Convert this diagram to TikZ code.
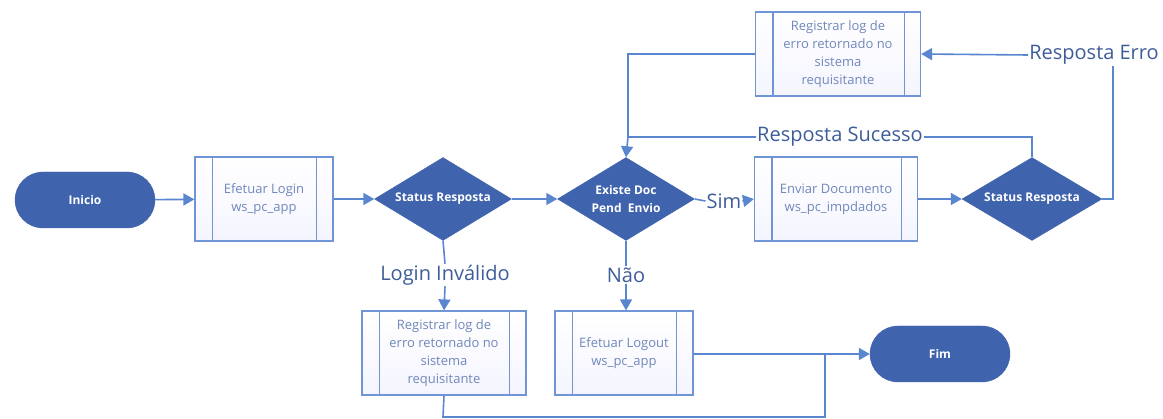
\documentclass[tikz,border=0pt]{standalone}
\usepackage{fontspec}
\setmainfont{Open Sans}
\usetikzlibrary{shapes.geometric,arrows.meta}
\definecolor{dkblue}{HTML}{3F63AC}
\definecolor{lnblue}{HTML}{5A86CF}
\definecolor{bxline}{HTML}{6F95D6}
\definecolor{bxtext}{HTML}{7088BA}
\definecolor{lbtext}{HTML}{3D5C9A}
\tikzset{
  term/.style={fill=dkblue, draw=dkblue, rounded corners=28pt, minimum width=140pt, minimum height=56pt, inner sep=0pt, text=white, font=\fontsize{12}{13}\selectfont\bfseries},
  dec/.style={diamond, fill=dkblue, draw=dkblue, minimum width=137pt, minimum height=83pt, inner sep=0pt},
  dectext/.style={text=white, align=center, inner sep=0pt, font=\fontsize{12}{18}\selectfont\bfseries},
  proc/.style={draw=bxline, line width=1.2pt, top color=white, bottom color=blue!4, minimum height=84pt, inner sep=0pt, align=center, text=bxtext, font=\fontsize{13}{18}\selectfont},
  lbl/.style={text=lbtext, font=\fontsize{20}{22}\selectfont, inner sep=1pt},
  conn/.style={draw=lnblue, line width=1.6pt},
  arr/.style={conn, -{Triangle[length=11pt,width=12pt]}},
}
\newcommand{\bars}[1]{\draw[draw=bxline, line width=1.2pt] ([xshift=18pt]#1.north west) -- ([xshift=18pt]#1.south west) ([xshift=-17pt]#1.north east) -- ([xshift=-17pt]#1.south east);}
\begin{document}
\begin{tikzpicture}[x=1pt,y=-1pt]
\useasboundingbox (0,0) rectangle (1163,419);
\node[term] (ini) at (85,200) {Inicio};
\node[proc, minimum width=138pt] (login) at (264,199) {Efetuar Login\\ws\_pc\_app};
\bars{login}
\node[dec, label={[dectext]center:Status Resposta}] (sr1) at (443,199) {};
\node[dec, label={[dectext]center:Existe Doc\\Pend\ \ Envio}] (doc) at (626,199) {};
\node[lbl] (sim) at (724,201) {Sim};
\node[proc, minimum width=163pt] (env) at (836,199) {Enviar Documento\\ws\_pc\_impdados};
\bars{env}
\node[dec, minimum width=140pt, label={[dectext]center:Status Resposta}] (sr2) at (1032,199) {};
\node[proc, minimum width=165pt] (reg1) at (838,54) {Registrar log de\\erro retornado no\\sistema\\requisitante};
\bars{reg1}
\node[lbl] (erro) at (1094,55) {Resposta Erro};
\node[lbl] (suc) at (840,137) {Resposta Sucesso};
\node[lbl] (linv) at (445,275) {Login Inválido};
\node[lbl] (nao) at (626,275) {Não};
\node[proc, minimum width=164pt, minimum height=84pt] (reg2) at (444,353) {Registrar log de\\erro retornado no\\sistema\\requisitante};
\bars{reg2}
\node[proc, minimum width=138pt, minimum height=84pt] (logout) at (624,353) {Efetuar Logout\\ws\_pc\_app};
\bars{logout}
\node[term] (fim) at (940,354) {Fim};
\coordinate (j1) at (628,137);
\coordinate (j2) at (1113,199);
\coordinate (j3) at (443,417);
\coordinate (j4) at (825,355);
\draw[arr] (ini) -- (login);
\draw[arr] (login) -- (sr1);
\draw[arr] (sr1) -- (doc);
\draw[conn] (doc.east) -- (sim.west);
\draw[arr] (sim.east) -- (env.west);
\draw[arr] (env) -- (sr2);
\draw[conn] (sr2.north) |- (suc.east);
\draw[arr] (suc.west) -- (j1) -- (doc.north);
\draw[conn] (sr2.east) -- (j2) -- (j2 |- erro.south);
\draw[arr] (erro.west) -- (reg1.east);
\draw[conn] (reg1.west) -| (j1);
\draw[conn] (sr1.south) -- (linv.north);
\draw[arr] (linv.south) -- (reg2.north);
\draw[conn] (doc.south) -- (nao.north);
\draw[arr] (nao.south) -- (nao.south |- logout.north);
\draw[arr] (logout.east |- fim.west) -- (fim.west);
\draw[conn] (reg2.south) -- (j3) -| (j4);
\end{tikzpicture}
\end{document}
